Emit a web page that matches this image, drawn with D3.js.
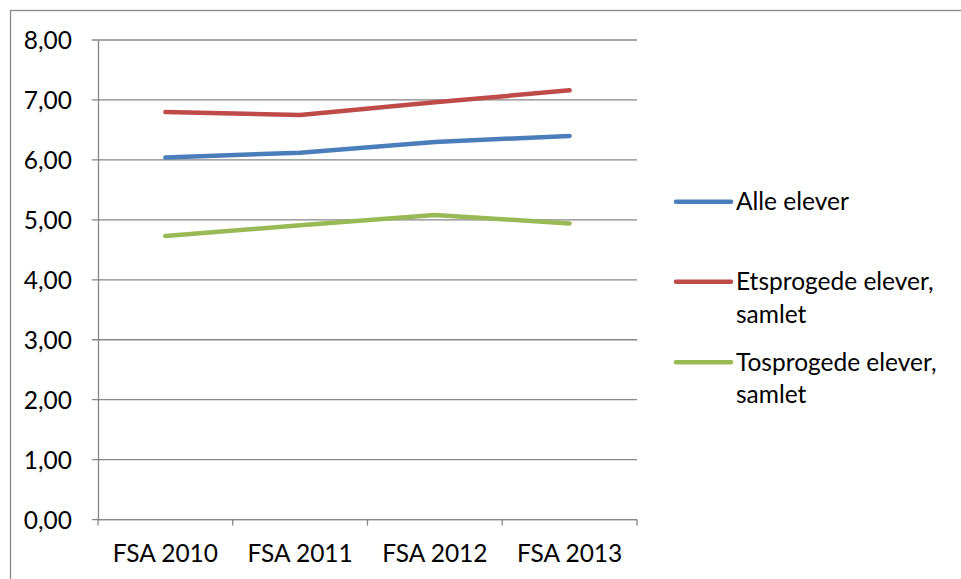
<!DOCTYPE html>
<html>
<head>
  <meta charset="utf-8">
  <title>FSA 2010-2013</title>
  <style>
    body { margin: 0; background: #fff; }
    svg text { font-family: Lato, "DejaVu Sans", sans-serif; fill: #000; }
  </style>
</head>
<body>
  <script src="https://cdn.jsdelivr.net/npm/d3@7/dist/d3.min.js"></script>
  <script>
    // data
    var categories = ["FSA 2010", "FSA 2011", "FSA 2012", "FSA 2013"];
    var seriesNames = ["Alle elever", "Etsprogede elever, samlet", "Tosprogede elever, samlet"];
    var alleElever = [6.04, 6.12, 6.30, 6.40];
    var etsprogede = [6.80, 6.75, 6.96, 7.16];
    var tosprogede = [4.73, 4.91, 5.08, 4.94];
    var yTicks = [0, 1, 2, 3, 4, 5, 6, 7, 8];
    var colors = ["#4a7ebb", "#be4b48", "#98b954"];

    var width = 961, height = 579;
    var plotLeft = 98, plotRight = 637, plotTop = 40, plotBottom = 519.6;
    var fontSize = 24.5;

    var svg = d3.select("body").append("svg")
      .attr("width", width)
      .attr("height", height);

    // chart border (only top and left visible in reference)
    svg.append("rect")
      .attr("x", 10.5).attr("y", 10.5)
      .attr("width", width + 20).attr("height", height + 20)
      .attr("fill", "none").attr("stroke", "#898989").attr("stroke-width", 1.3);

    var x = d3.scaleBand().domain(categories).range([plotLeft, plotRight]);
    var y = d3.scaleLinear().domain([0, 8]).range([plotBottom, plotTop]);

    // gridlines
    svg.append("g").selectAll("line")
      .data(yTicks)
      .enter().append("line")
      .attr("x1", plotLeft - 6).attr("x2", plotRight)
      .attr("y1", function(d) { return y(d); })
      .attr("y2", function(d) { return y(d); })
      .attr("stroke", "#868686").attr("stroke-width", 1.3);

    // y axis
    var yAxis = d3.axisLeft(y).tickValues(yTicks).tickSize(0).tickPadding(26)
      .tickFormat(function(d) { return d3.format(".2f")(d).replace(".", ","); });
    var yg = svg.append("g").attr("transform", "translate(" + plotLeft + ",0)").call(yAxis);
    yg.select(".domain").attr("stroke", "#868686").attr("stroke-width", 1.3);
    yg.selectAll("text").attr("font-size", fontSize).attr("font-family", "Lato").attr("dy", "0.36em");

    // x axis: ticks at category boundaries
    var xg = svg.append("g").attr("transform", "translate(0," + plotBottom + ")");
    xg.append("line").attr("x1", plotLeft).attr("x2", plotRight)
      .attr("stroke", "#868686").attr("stroke-width", 1.3);
    var bounds = categories.map(function(c) { return x(c); }).concat([x(categories[categories.length - 1]) + x.bandwidth()]);
    xg.selectAll(".tick").data(bounds).enter().append("line")
      .attr("x1", function(d) { return d; }).attr("x2", function(d) { return d; })
      .attr("y1", 0).attr("y2", 6)
      .attr("stroke", "#868686").attr("stroke-width", 1.3);
    xg.selectAll(".lbl").data(categories).enter().append("text")
      .attr("x", function(d) { return x(d) + x.bandwidth() / 2; })
      .attr("y", 42)
      .attr("text-anchor", "middle")
      .attr("font-size", fontSize)
      .text(function(d) { return d; });

    // lines
    var seriesData = [alleElever, etsprogede, tosprogede];
    var line = d3.line()
      .x(function(d, i) { return x(categories[i]) + x.bandwidth() / 2; })
      .y(function(d) { return y(d); });

    svg.append("g").selectAll("path")
      .data(seriesData)
      .enter().append("path")
      .attr("d", line)
      .attr("fill", "none")
      .attr("stroke", function(d, i) { return colors[i]; })
      .attr("stroke-width", 4.5)
      .attr("stroke-linecap", "round")
      .attr("stroke-linejoin", "round");

    // legend
    var legendY = [201.7, 281.7, 362.3];
    var leg = svg.append("g").selectAll("g")
      .data(seriesNames)
      .enter().append("g")
      .attr("transform", function(d, i) { return "translate(676," + legendY[i] + ")"; });
    leg.append("line")
      .attr("x1", 0).attr("x2", 55)
      .attr("stroke", function(d, i) { return colors[i]; })
      .attr("stroke-width", 4.5)
      .attr("stroke-linecap", "round");
    leg.append("text")
      .attr("x", 60)
      .attr("y", 8.5)
      .attr("font-size", fontSize)
      .each(function(d) {
        var parts = d.indexOf(", ") > 0 ? [d.split(", ")[0] + ",", d.split(", ")[1]] : [d];
        var t = d3.select(this);
        parts.forEach(function(p, j) {
          t.append("tspan").attr("x", 60).attr("dy", j === 0 ? 0 : 32.5).text(p);
        });
      });
  </script>
</body>
</html>
